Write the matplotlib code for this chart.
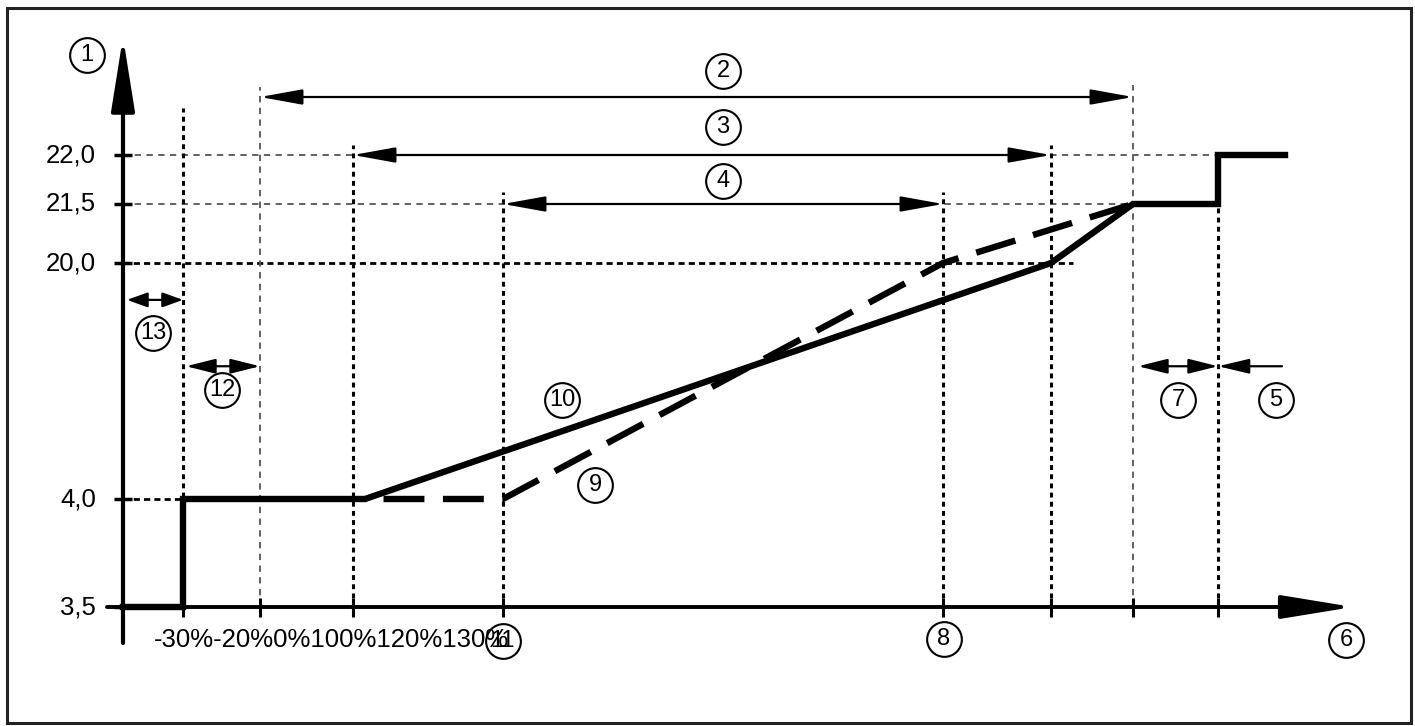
import numpy as np
import matplotlib.pyplot as plt
from matplotlib.patches import Rectangle

plt.rcParams['font.family'] = ['Liberation Sans', 'DejaVu Sans']

# y levels (mA) and their labels
y_levels = [3.5, 4.0, 20.0, 21.5, 22.0]
y_labels = ["3,5", "4,0", "20,0", "21,5", "22,0"]

# the y axis is not to scale: value -> drawing height
scale_val = [2.5, 3.5, 4.0, 20.0, 21.5, 22.0, 23.0, 30.0]
scale_h = [-216, 0, 108, 344, 403, 452, 510, 916]

# characteristic x positions (schematic units, y axis = 0)
x_m30 = 60
x_m20 = 137
x_0 = 230
x_knee = 242
x_11 = 380
x_8 = 820
x_92 = 928
x_100 = 1010
x_hi = 1095
x_end = 1162
x_ticks = [x_m30, x_m20, x_0, x_11, x_8, x_92, x_100, x_hi]
x_label_row = "-30%-20%0%100%120%130%"

# curve (10), solid
solid_x = [0, x_m30, x_m30, x_knee, x_92, x_100, x_hi, x_hi, x_end]
solid_y = [3.5, 3.5, 4.0, 4.0, 20.0, 21.5, 21.5, 22.0, 22.0]
# curve (9), dashed
dash_x = [x_knee, x_11, x_8, x_100]
dash_y = [4.0, 4.0, 20.0, 21.5]


def fwd(v):
    return np.interp(v, scale_val, scale_h)


def inv(h):
    return np.interp(h, scale_h, scale_val)


fig = plt.figure(figsize=(14.15, 7.26), dpi=100)
ax = fig.add_axes([0, 0, 1, 1])
ax.set_yscale('function', functions=(fwd, inv))
ax.set_xlim(-123, 1292)
ax.set_ylim(inv(-119), inv(607))
ax.axis('off')

# frame
fig.patches.append(Rectangle((7 / 1415, 3 / 726), 1404 / 1415, 715 / 726,
                             transform=fig.transFigure, fill=False,
                             lw=2.2, ec='#222'))

gray = dict(color='#555', lw=1.3, ls=(0, (3.5, 3)))
black_v = dict(color='k', lw=2.2, ls=(0, (1.6, 1.4)))
black_h = dict(color='k', lw=2.0, ls=(0, (2.2, 1.5)))

# horizontal guide lines
ax.hlines(22.0, 0, x_hi, **gray)
ax.hlines(21.5, 0, x_100, **gray)
ax.hlines(20.0, 0, 950, **black_h)
ax.hlines(4.0, 0, x_m30, **black_h)

# vertical guide lines
v_tops = {x_m30: 22.81, x_0: 22.17, x_11: 21.62, x_8: 21.62, x_92: 22.17,
          x_hi: 21.5}
for xv, top in v_tops.items():
    ax.vlines(xv, 3.5, top, **black_v)
ax.vlines(x_m20, 3.5, 23.17, **gray)
ax.vlines(x_100, 3.5, 23.2, **gray)

# axes with arrow heads
ax.annotate('', xy=(0, inv(570)), xytext=(0, inv(-36)),
            arrowprops=dict(arrowstyle='-|>,head_length=4.5,head_width=0.72',
                            lw=3, color='k', shrinkA=0, shrinkB=0,
                            mutation_scale=10))
ax.annotate('', xy=(1230, 3.5), xytext=(-16, 3.5),
            arrowprops=dict(arrowstyle='-|>,head_length=4.4,head_width=0.72',
                            lw=2.8, color='k', shrinkA=0, shrinkB=0,
                            mutation_scale=10))

# ticks
ax.hlines(y_levels, -9, 9, color='k', lw=2.5)
ax.vlines(x_ticks, inv(-10), inv(9), color='k', lw=2.2)

for v, lab in zip(y_levels, y_labels):
    ax.text(-27, v, lab, ha='right', va='center', fontsize=18.5)
ax.text(31, inv(-33), x_label_row, ha='left', va='center', fontsize=18.5)

# curves
ax.plot(solid_x, solid_y, color='k', lw=4.6, solid_joinstyle='miter',
        zorder=4)
ax.plot(dash_x, dash_y, color='k', lw=4.6, ls=(6.4, (6.4, 2.9)), zorder=4)

# dimension arrows
base = dict(lw=1.6, color='k', shrinkA=0, shrinkB=0, mutation_scale=10)
for x0, x1, lv in [(x_m20, x_100, 23.0), (x_0, x_92, 22.0), (x_11, x_8, 21.5)]:
    ax.annotate('', xy=(x1, lv), xytext=(x0, lv),
                arrowprops=dict(arrowstyle='<|-|>,head_length=2.6,head_width=0.47',
                                **base))
ax.annotate('', xy=(x_m30, 17.5), xytext=(4, 17.5),
            arrowprops=dict(arrowstyle='<|-|>,head_length=1.25,head_width=0.45',
                            **base))
for x0, x1, lv in [(x_m30 + 3, x_m20, 13.0), (x_100 + 5, x_hi, 13.0)]:
    ax.annotate('', xy=(x1, lv), xytext=(x0, lv),
                arrowprops=dict(arrowstyle='<|-|>,head_length=1.8,head_width=0.45',
                                **base))
ax.annotate('', xy=(x_hi, 13.0), xytext=(1159, 13.0),
            arrowprops=dict(arrowstyle='-|>,head_length=1.9,head_width=0.45',
                            **base))

# circled callouts
callouts = [('1', -36, 552), ('2', 600, 536), ('3', 600, 480), ('4', 600, 426),
            ('13', 30, 274), ('12', 99, 217), ('10', 439, 207), ('9', 472, 122),
            ('7', 1055, 207), ('5', 1153, 207), ('11', 380, -34),
            ('8', 821, -32), ('6', 1223, -33)]
for lab, cx, ch in callouts:
    cy = inv(ch)
    ax.plot(cx, cy, 'o', ms=25, mfc='none', mec='k', mew=1.5, zorder=5)
    ax.text(cx, cy, lab, ha='center', va='center', fontsize=17, zorder=6)

fig.savefig('out.png', dpi=100)
